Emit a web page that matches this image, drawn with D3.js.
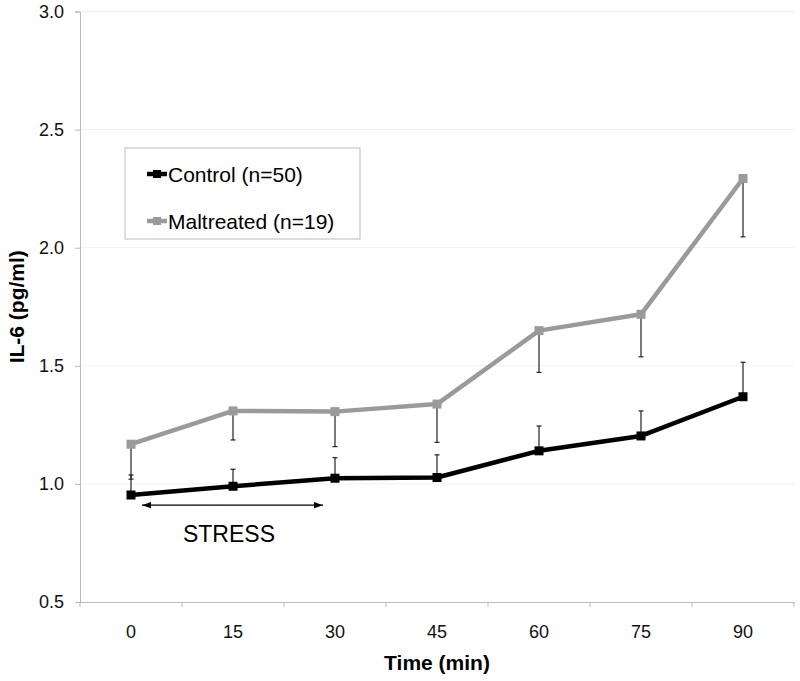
<!DOCTYPE html>
<html>
<head>
<meta charset="utf-8">
<script src="https://cdn.jsdelivr.net/npm/d3@7"></script>
<style>
  body { margin: 0; background: #fff; }
  svg { display: block; font-family: "Liberation Sans", Arial, sans-serif; }
</style>
</head>
<body>
<svg id="chart" width="800" height="681"></svg>
<script>
// values
var times = ['0', '15', '30', '45', '60', '75', '90'];
var control = [0.953, 0.990, 1.024, 1.027, 1.140, 1.203, 1.369];
var controlErr = [0.085, 0.072, 0.087, 0.096, 0.105, 0.106, 0.146];
var maltreated = [1.168, 1.309, 1.306, 1.338, 1.649, 1.718, 2.293];
var maltreatedErr = [0.148, 0.123, 0.148, 0.162, 0.177, 0.180, 0.247];
var yTicks = [0.5, 1.0, 1.5, 2.0, 2.5, 3.0];
var legendLabels = ['Control (n=50)', 'Maltreated (n=19)'];

var svg = d3.select('#chart');
var margin = {top: 11.5, right: 6, bottom: 79, left: 80},
    width = 800 - margin.left - margin.right,
    height = 681 - margin.top - margin.bottom,
    g = svg.append('g').attr('transform', 'translate(' + margin.left + ',' + margin.top + ')');

var x = d3.scaleBand().domain(times).range([0, width]);
var y = d3.scaleLinear().domain([0.5, 3.0]).range([height, 0]);

// faint gridlines
g.selectAll('.grid')
  .data(yTicks.slice(1))
  .enter().append('line')
  .attr('x1', 0).attr('x2', width)
  .attr('y1', d => y(d)).attr('y2', d => y(d))
  .style('stroke', '#f0f0f0').style('stroke-width', 1);

// y axis
var yAxis = g.append('g')
  .call(d3.axisLeft(y).tickValues(yTicks).tickFormat(d3.format('.1f')).tickSize(5).tickPadding(11));
yAxis.select('.domain').style('stroke', '#bbb');
yAxis.selectAll('.tick line').style('stroke', '#bbb');
yAxis.selectAll('text').style('font-size', '18px').style('fill', '#111');

// x axis, ticks between categories
var xAxis = g.append('g')
  .attr('transform', 'translate(0,' + height + ')')
  .call(d3.axisBottom(x).tickSize(0).tickPadding(23));
xAxis.select('.domain').style('stroke', '#bbb');
xAxis.selectAll('text').style('font-size', '18px').style('fill', '#111');
var bounds = times.map(t => x(t)).concat([width]);
xAxis.selectAll('.sep')
  .data(bounds)
  .enter().append('line')
  .attr('x1', d => d).attr('x2', d => d)
  .attr('y1', 0).attr('y2', 5)
  .style('stroke', '#bbb');

// axis titles
svg.append('text')
  .attr('x', margin.left + width / 2).attr('y', 670)
  .attr('text-anchor', 'middle')
  .style('font-size', '21px').style('font-weight', 'bold')
  .text('Time (min)');
svg.append('text')
  .attr('transform', 'translate(24,' + (margin.top + height / 2) + ') rotate(-90)')
  .attr('text-anchor', 'middle')
  .style('font-size', '21px').style('font-weight', 'bold')
  .text('IL-6 (pg/ml)');

var cx = t => x(t) + x.bandwidth() / 2;

// error bars
function errorBars(vals, errs, dir) {
  var data = times.map((t, i) => ({t: t, v: vals[i], e: vals[i] + dir * errs[i]}));
  var eg = g.append('g');
  eg.selectAll('.eb').data(data).enter().append('line')
    .attr('x1', d => cx(d.t)).attr('x2', d => cx(d.t))
    .attr('y1', d => y(d.v)).attr('y2', d => y(d.e))
    .style('stroke', '#222').style('stroke-width', 1.2);
  eg.selectAll('.cap').data(data).enter().append('line')
    .attr('x1', d => cx(d.t) - 2.5).attr('x2', d => cx(d.t) + 2.5)
    .attr('y1', d => y(d.e)).attr('y2', d => y(d.e))
    .style('stroke', '#222').style('stroke-width', 1.2);
}
errorBars(control, controlErr, 1);
errorBars(maltreated, maltreatedErr, -1);

var line = d3.line()
  .x((d, i) => cx(times[i]))
  .y(d => y(d));

function series(vals, color) {
  g.append('path')
    .attr('d', line(vals))
    .style('fill', 'none')
    .style('stroke', color)
    .style('stroke-width', 4.5)
    .style('stroke-linejoin', 'round');
  g.selectAll(null).data(vals).enter().append('rect')
    .attr('x', (d, i) => cx(times[i]) - 4.5)
    .attr('y', d => y(d) - 4.5)
    .attr('width', 9).attr('height', 9)
    .style('fill', color);
}
series(maltreated, '#9a9a9a');
series(control, '#000');

// stress arrow
var defs = svg.append('defs');
defs.append('marker')
  .attr('id', 'arr').attr('viewBox', '0 0 10 10')
  .attr('refX', 10).attr('refY', 5)
  .attr('markerWidth', 7).attr('markerHeight', 7)
  .attr('orient', 'auto-start-reverse')
  .append('path').attr('d', 'M0,1.5 L10,5 L0,8.5 Z').style('fill', '#000');
var ay = y(0.91);
g.append('line')
  .attr('x1', cx('0') + 11).attr('x2', cx('30') - 12)
  .attr('y1', ay).attr('y2', ay)
  .style('stroke', '#000').style('stroke-width', 1.3)
  .attr('marker-start', 'url(#arr)').attr('marker-end', 'url(#arr)');
g.append('text')
  .attr('x', (cx('0') + cx('30')) / 2 - 4).attr('y', y(0.755))
  .attr('text-anchor', 'middle')
  .style('font-size', '23px')
  .text('STRESS');

// legend
var lg = svg.append('g').attr('transform', 'translate(125,148)');
lg.append('rect')
  .attr('width', 235).attr('height', 91)
  .style('fill', '#fff').style('stroke', '#bbb').style('stroke-width', 1);
var legendColors = ['#000', '#9a9a9a'];
legendLabels.forEach((lab, i) => {
  var ly = 26 + i * 47;
  lg.append('line')
    .attr('x1', 22).attr('x2', 42).attr('y1', ly).attr('y2', ly)
    .style('stroke', legendColors[i]).style('stroke-width', 4.5);
  lg.append('rect')
    .attr('x', 28).attr('y', ly - 4).attr('width', 8).attr('height', 8)
    .style('fill', legendColors[i]);
  lg.append('text')
    .attr('x', 43).attr('y', ly + 7.5)
    .style('font-size', '21px')
    .text(lab);
});
</script>
</body>
</html>
